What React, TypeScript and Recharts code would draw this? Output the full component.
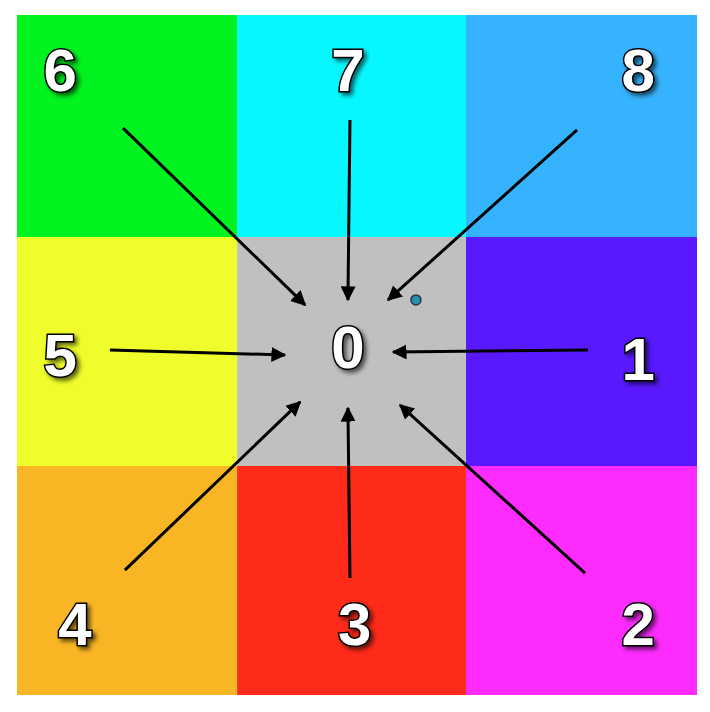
import React from 'react';
import { ComposedChart, XAxis, YAxis, ReferenceArea, ReferenceLine, Scatter } from 'recharts';

// grid edges (columns left→right, rows bottom→top)
const colEdges = [0, 0.971, 1.981, 3];
const rowEdges = [0, 1.01, 2.021, 3];

// 3x3 grid cells: column, row (row 0 = bottom)
const cells = [
  { col: 0, row: 2, color: '#00F31E' },
  { col: 1, row: 2, color: '#06F8FE' },
  { col: 2, row: 2, color: '#36B3FE' },
  { col: 0, row: 1, color: '#EFFD2A' },
  { col: 1, row: 1, color: '#C0C0C0' },
  { col: 2, row: 1, color: '#5819FF' },
  { col: 0, row: 0, color: '#F9B624' },
  { col: 1, row: 0, color: '#FE2A1A' },
  { col: 2, row: 0, color: '#FE2BFE' },
];

const labels = [
  { x: 0.19, y: 2.757, text: '6' },
  { x: 1.46, y: 2.757, text: '7' },
  { x: 2.74, y: 2.757, text: '8' },
  { x: 0.19, y: 1.5, text: '5' },
  { x: 1.46, y: 1.531, text: '0' },
  { x: 2.74, y: 1.478, text: '1' },
  { x: 0.256, y: 0.309, text: '4' },
  { x: 1.49, y: 0.309, text: '3' },
  { x: 2.74, y: 0.309, text: '2' },
];

const arrows = [
  { x1: 0.468, y1: 2.501, x2: 1.271, y2: 1.721 },
  { x1: 1.469, y1: 2.537, x2: 1.46, y2: 1.743 },
  { x1: 2.471, y1: 2.493, x2: 1.637, y2: 1.743 },
  { x1: 0.41, y1: 1.522, x2: 1.182, y2: 1.5 },
  { x1: 2.519, y1: 1.522, x2: 1.659, y2: 1.513 },
  { x1: 0.476, y1: 0.551, x2: 1.249, y2: 1.293 },
  { x1: 1.469, y1: 0.516, x2: 1.46, y2: 1.266 },
  { x1: 2.506, y1: 0.538, x2: 1.69, y2: 1.279 },
];

const dots = [{ x: 1.76, y: 1.743 }];

const LabelShape = (props: any) => {
  const { cx, cy, payload } = props;
  return (
    <text
      x={cx}
      y={cy}
      textAnchor="middle"
      dominantBaseline="central"
      fontFamily="Liberation Sans, Arial, sans-serif"
      fontWeight="bold"
      fontSize={60}
      fill="#fff"
      stroke="#000"
      strokeWidth={3}
      paintOrder="stroke"
      filter="url(#shadow)"
    >
      {payload.text}
    </text>
  );
};

const DotShape = (props: any) => (
  <circle cx={props.cx} cy={props.cy} r={5} fill="#2A8FA8" stroke="#1A3A50" strokeWidth={1.5} />
);

export default function App() {
  return (
    <div style={{ position: 'absolute', left: 0, top: 0, width: 710, height: 712, background: '#fff' }}>
      <svg width={0} height={0} style={{ position: 'absolute' }}>
        <defs>
          <marker id="arrow" viewBox="0 0 10 10" refX="9" refY="5" markerWidth="5" markerHeight="5" orient="auto">
            <path d="M0,0 L10,5 L0,10 z" fill="#000" />
          </marker>
          <filter id="shadow" x="-30%" y="-30%" width="160%" height="160%">
            <feDropShadow dx="3" dy="3" stdDeviation="2" floodColor="#000" floodOpacity="0.6" />
          </filter>
        </defs>
      </svg>
      <ComposedChart width={710} height={712} margin={{ top: 15, right: 13, bottom: 17, left: 17 }}>
        <XAxis type="number" dataKey="x" domain={[0, 3]} hide />
        <YAxis type="number" dataKey="y" domain={[0, 3]} hide />
        {cells.map((c, i) => (
          <ReferenceArea
            key={`cell-${i}`}
            x1={colEdges[c.col]}
            x2={colEdges[c.col + 1]}
            y1={rowEdges[c.row]}
            y2={rowEdges[c.row + 1]}
            fill={c.color}
            fillOpacity={1}
            stroke="none"
            ifOverflow="visible"
          />
        ))}
        {arrows.map((a, i) => (
          <ReferenceLine
            key={`arrow-${i}`}
            segment={[{ x: a.x1, y: a.y1 }, { x: a.x2, y: a.y2 }]}
            stroke="#000"
            strokeWidth={3}
            markerEnd="url(#arrow)"
            ifOverflow="visible"
          />
        ))}
        <Scatter data={dots} shape={DotShape} isAnimationActive={false} />
        <Scatter data={labels} shape={LabelShape} isAnimationActive={false} />
      </ComposedChart>
    </div>
  );
}
